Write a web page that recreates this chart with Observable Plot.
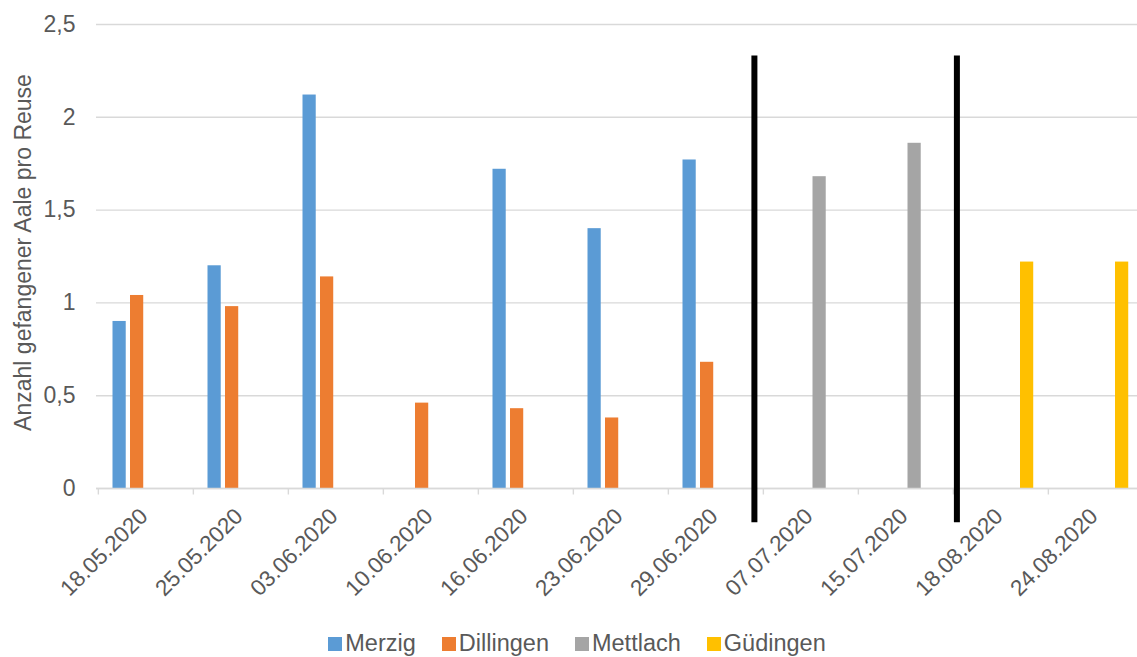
<!DOCTYPE html>
<html><head><meta charset="utf-8">
<script src="https://cdn.jsdelivr.net/npm/d3@7"></script>
<script src="https://cdn.jsdelivr.net/npm/@observablehq/plot@0.6"></script>
<style>
html,body{margin:0;padding:0;background:#fff;overflow:hidden;}
#chart{position:relative;width:1137px;height:657px;overflow:hidden;font-family:"Liberation Sans",Arial,sans-serif;}
#plot{position:absolute;left:0;top:0;width:1144px;}
#plot svg{max-width:none;}
#legend{position:absolute;top:630px;left:0;width:1137px;padding-left:17px;box-sizing:border-box;display:flex;justify-content:center;align-items:center;gap:26px;font-size:23.5px;color:#595959;}
#legend .item{display:flex;align-items:center;}
#legend .sw{display:inline-block;width:14px;height:14px;margin-right:3px;}
</style></head><body>
<div id="chart"><div id="plot"></div><div id="legend"></div></div>
<script>
const dates = ["18.05.2020","25.05.2020","03.06.2020","10.06.2020","16.06.2020","23.06.2020","29.06.2020","07.07.2020","15.07.2020","18.08.2020","24.08.2020"];
const seriesNames = ["Merzig","Dillingen","Mettlach","Güdingen"];
const merzig    = [0.90, 1.20, 2.12, null, 1.72, 1.40, 1.77, null, null, null, null];
const dillingen = [1.04, 0.98, 1.14, 0.46, 0.43, 0.38, 0.68, null, null, null, null];
const mettlach  = [null, null, null, null, null, null, null, 1.68, 1.86, null, null];
const guedingen = [null, null, null, null, null, null, null, null, null, 1.22, 1.22];
const colors = ["#5b9bd5","#ed7d31","#a5a5a5","#ffc000"];
const yTicks = [0, 0.5, 1, 1.5, 2, 2.5];
const separators = [{date: "07.07.2020", offset: -56.6}, {date: "18.08.2020", offset: -44.1}];
const yTitle = "Anzahl gefangener Aale pro Reuse";

const W = 1144, ML = 96, MR = 0;
const bw = (W - ML - MR) / dates.length;
const barW = 13.5, firstOff = 14.5, step = 17.5;
const allSeries = [merzig, dillingen, mettlach, guedingen];

const barMarks = allSeries.map((vals, k) => {
  const data = dates.map((d, i) => ({date: d, value: vals[i]})).filter(r => r.value != null);
  const left = firstOff + step * k;
  return Plot.barY(data, {x: "date", y: "value", fill: colors[k],
    insetLeft: left, insetRight: bw - left - barW});
});

const sepMarks = separators.map(s =>
  Plot.ruleX([s], {x: "date", dx: s.offset, y1: 2.33, y2: -0.185, stroke: "#000", strokeWidth: 6}));

const txt = "#595959";
const plot = Plot.plot({
  width: W, height: 610,
  marginLeft: ML, marginRight: MR, marginTop: 24, marginBottom: 122,
  style: {fontFamily: '"Liberation Sans", Arial, sans-serif', background: "transparent"},
  x: {type: "band", domain: dates, padding: 0},
  y: {domain: [0, 2.5]},
  marks: [
    Plot.gridY(yTicks, {stroke: "#d9d9d9", strokeOpacity: 1, strokeWidth: 1.4}),
    Plot.axisY(yTicks, {tickSize: 0, tickPadding: 21, fontSize: 23, fill: txt, label: null,
      tickFormat: d => String(d).replace(".", ",")}),
    Plot.axisX({tickSize: 0, tickPadding: 24, tickRotate: -45, fontSize: 22.5, fill: txt, label: null, dx: -2}),
    Plot.text([yTitle], {frameAnchor: "left", textAnchor: "middle", rotate: -90, dx: -73, dy: -4, fontSize: 23, fill: txt, text: d => d}),
    ...barMarks,
    Plot.ruleY([0], {stroke: "#d9d9d9", strokeWidth: 1.4}),
    Plot.ruleX(dates, {x: d => d, dx: -bw / 2, y1: 0, y2: -0.035, stroke: "#d9d9d9", strokeWidth: 1.4}),
    ...sepMarks
  ]
});
document.getElementById("plot").appendChild(plot);

const legend = document.getElementById("legend");
seriesNames.forEach((name, k) => {
  const item = document.createElement("span");
  item.className = "item";
  const sw = document.createElement("span");
  sw.className = "sw";
  sw.style.background = colors[k];
  item.appendChild(sw);
  item.appendChild(document.createTextNode(name));
  legend.appendChild(item);
});
</script>
</body></html>
